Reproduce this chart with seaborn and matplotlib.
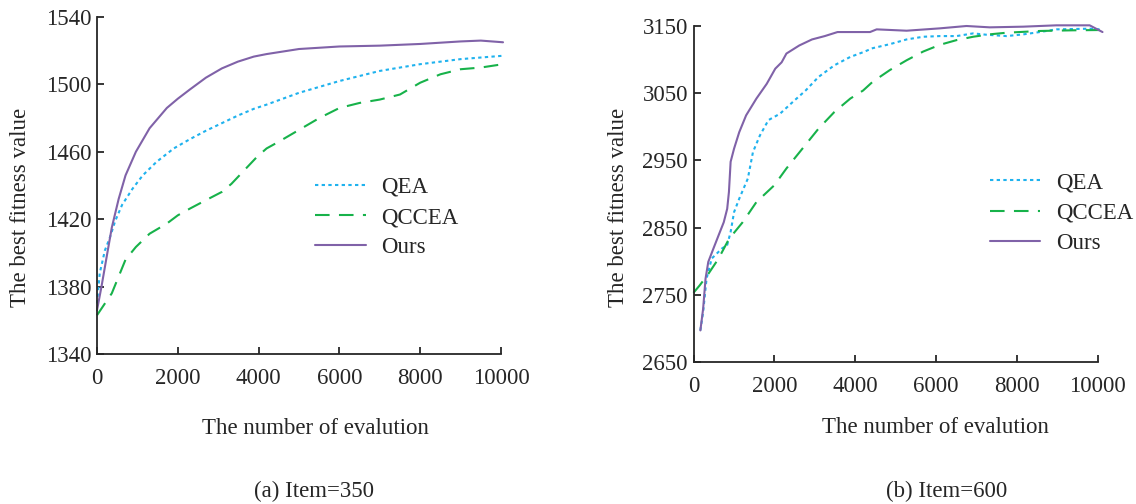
import pandas as pd
import seaborn as sns
import matplotlib.pyplot as plt

# Item=350 curves
x_ours_a = [0, 111, 238, 366, 536, 706, 962, 1302, 1728, 2000, 2300, 2696, 3091, 3486, 3881, 4198,
            5000, 6000, 7000, 8000, 9000, 9500, 10050]
ours_a = [1366, 1380, 1397.5, 1415, 1432, 1446, 1460, 1474, 1486, 1491.5, 1497, 1504, 1509.5, 1513.5, 1516.5, 1518,
          1521, 1522.5, 1523, 1524, 1525.5, 1526, 1525]
x_qea_a = [0, 68, 196, 323, 451, 621, 877, 1132, 1472, 1900, 2300, 2696, 3091, 3486, 3881, 4198,
           5000, 6000, 7000, 8000, 9000, 10050]
qea_a = [1370, 1388, 1401.5, 1409.4, 1419, 1428.5, 1438, 1446, 1454, 1462, 1467.5, 1472.5, 1477, 1481.5, 1485.5, 1488,
         1495, 1502, 1508, 1512, 1515, 1517]
x_qccea_a = [0, 196, 366, 536, 706, 962, 1302, 1728, 2000, 2300, 2696, 3091, 3328, 3644, 3960, 4198, 4500,
             5000, 5500, 6000, 6500, 7000, 7500, 8000, 8500, 9000, 9500, 10050]
qccea_a = [1363, 1370, 1376, 1386, 1396, 1403.5, 1411.4, 1417.4, 1422.3, 1426.3, 1431.3, 1436.2, 1441, 1449, 1457,
           1462, 1466, 1473, 1480, 1486, 1489, 1491, 1494, 1501, 1506, 1509, 1510, 1512]

# Item=600 curves
x_ours_b = [170, 238, 298, 366, 494, 621, 749, 834, 877, 919, 1004, 1132, 1302, 1557, 1813, 2024, 2182, 2300,
            2617, 2933, 3249, 3565, 4198, 4369, 4534, 5275, 6098, 6757, 7334, 8159, 8982, 9806, 10124]
ours_b = [2697, 2729, 2774, 2799, 2819, 2838.5, 2858, 2878, 2903, 2948, 2967.5, 2992, 3017, 3042, 3064, 3086.5,
          3096, 3109, 3121, 3130, 3135, 3141, 3141, 3141, 3145, 3143, 3146.5, 3150, 3148, 3149, 3151, 3151, 3141]
x_qea_b = [170, 238, 323, 451, 706, 834, 919, 1004, 1132, 1345, 1472, 1643, 1855, 2142, 2458, 2775, 3091, 3486,
           3881, 4198, 4435, 4862, 5275, 5686, 6098, 6511, 6922, 7252, 7747, 8159, 8570, 8982, 9806, 10050]
qea_b = [2697, 2724, 2774, 2804, 2819, 2824, 2843.5, 2873, 2893, 2923, 2962.5, 2987, 3010, 3019.5, 3037, 3054,
         3074, 3091.5, 3104, 3111, 3117, 3123, 3130, 3134, 3135, 3135, 3139, 3137, 3135, 3137.5, 3141, 3145, 3146,
         3145]
x_qccea_b = [0, 153, 366, 621, 877, 1217, 1557, 2000, 2300, 2696, 3091, 3486, 3881, 4198, 4435, 4862, 5275,
             5686, 6098, 6511, 6922, 7334, 7747, 8570, 9394, 10050]
qccea_b = [2753, 2764, 2781, 2804, 2833, 2858, 2888, 2913, 2938, 2967.5, 2997, 3022, 3042, 3054, 3067, 3084.5,
           3099, 3112, 3122, 3129, 3134, 3137.6, 3140, 3142.6, 3143.6, 3144]

methods = ["QEA", "QCCEA", "Ours"]
colors = {"QEA": "#1fb2ee", "QCCEA": "#17b24a", "Ours": "#8062a8"}
dashes = {"QEA": (1.6, 1.6), "QCCEA": (7, 4.5), "Ours": ""}


def to_frame(xs, ys):
    parts = []
    for name, x, y in zip(methods, xs, ys):
        parts.append(pd.DataFrame({"evals": x, "fitness": y, "method": name}))
    return pd.concat(parts, ignore_index=True)


df_a = to_frame([x_qea_a, x_qccea_a, x_ours_a], [qea_a, qccea_a, ours_a])
df_b = to_frame([x_qea_b, x_qccea_b, x_ours_b], [qea_b, qccea_b, ours_b])

sns.set_style("ticks")
plt.rcParams["font.family"] = ["Liberation Serif", "DejaVu Serif"]
fs = 16.5

fig = plt.figure(figsize=(11.36, 5.04), dpi=100)
ax1 = fig.add_axes([97 / 1136, 1 - 354 / 504, 404 / 1136, 337 / 504])
ax2 = fig.add_axes([693.5 / 1136, 1 - 362 / 504, 404 / 1136, 336 / 504])

setups = [
    (ax1, df_a, (1340, 1540), range(1340, 1541, 40), (0.54, 0.405), (0.54, -0.22), (-0.19, 0.436)),
    (ax2, df_b, (2650, 3150), range(2650, 3151, 100), (0.734, 0.443), (0.60, -0.196), (-0.186, 0.461)),
]

for ax, df, ylim, yticks, leg_pos, xl_pos, yl_pos in setups:
    sns.lineplot(data=df, x="evals", y="fitness", hue="method", style="method",
                 palette=colors, dashes=dashes, estimator=None, sort=False,
                 linewidth=1.5, ax=ax)
    for ln in ax.lines:
        ln.set_clip_on(False)
    ax.set_xlim(0, 10000)
    ax.set_ylim(*ylim)
    ax.set_xticks(range(0, 10001, 2000))
    ax.set_yticks(list(yticks))
    sns.despine(ax=ax)
    for s in ("left", "bottom"):
        ax.spines[s].set_linewidth(1.3)
    ax.tick_params(direction="in", length=5, width=1.3, labelsize=fs)
    ax.tick_params(axis="x", pad=10)
    ax.tick_params(axis="y", pad=4)
    ax.set_xlabel("The number of evalution", fontsize=fs)
    ax.set_ylabel("The best fitness value", fontsize=fs)
    ax.xaxis.set_label_coords(*xl_pos)
    ax.xaxis.label.set_va("center")
    ax.yaxis.set_label_coords(*yl_pos)
    ax.yaxis.label.set_va("center")
    ax.legend(loc="center left", bbox_to_anchor=leg_pos, frameon=False, fontsize=fs,
              borderaxespad=0, borderpad=0, handlelength=2.2, handletextpad=0.7,
              labelspacing=0.4, title=None)

fig.text(314 / 1136, 1 - 491 / 504, "(a) Item=350", ha="center", va="center", fontsize=fs)
fig.text(947 / 1136, 1 - 491 / 504, "(b) Item=600", ha="center", va="center", fontsize=fs)

fig.savefig("out.png", dpi=100)
